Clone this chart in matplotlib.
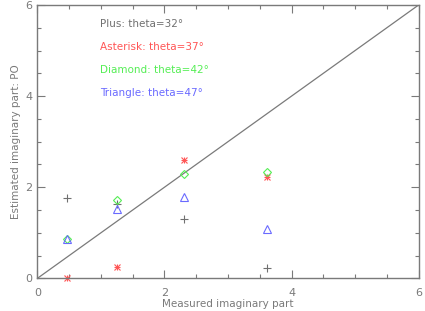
import matplotlib.pyplot as plt
from matplotlib.ticker import MultipleLocator

measured = [0.46, 1.245, 2.30, 3.61]
plus_vals = [1.76, 1.63, 1.30, 0.22]
asterisk_vals = [0.0, 0.25, 2.60, 2.23]
diamond_vals = [0.86, 1.71, 2.30, 2.34]
triangle_vals = [0.86, 1.52, 1.78, 1.08]
labels = ["Plus: theta=32°", "Asterisk: theta=37°",
          "Diamond: theta=42°", "Triangle: theta=47°"]

gray = "#7a7a7a"
colors = ["#707070", "#ff5555", "#55ee55", "#6a6aff"]

fig = plt.figure(figsize=(4.25, 3.11), dpi=100)
ax = fig.add_axes([0.088, 0.105, 0.897, 0.879])

ax.plot([0, 6], [0, 6], color=gray, lw=0.9)
ax.plot(measured, plus_vals, ls="none", marker="+", ms=6, mew=0.8,
        color=colors[0])
# IDL style asterisk: a plus and an x on top of each other
ax.plot(measured, asterisk_vals, ls="none", marker="x", ms=5, mew=0.8,
        color=colors[1], clip_on=False)
ax.plot(measured, asterisk_vals, ls="none", marker="+", ms=4, mew=0.8,
        color=colors[1], clip_on=False)
ax.plot(measured, diamond_vals, ls="none", marker="D", ms=4.5, mew=0.8,
        mfc="none", color=colors[2])
ax.plot(measured, triangle_vals, ls="none", marker="^", ms=5.5, mew=0.8,
        mfc="none", color=colors[3])

for i, (lab, c) in enumerate(zip(labels, colors)):
    ax.text(0.98, 5.59 - 0.51 * i, lab, color=c, fontsize=7.5, va="center")

ax.set_xlim(0, 6)
ax.set_ylim(0, 6)
ax.xaxis.set_major_locator(MultipleLocator(2))
ax.yaxis.set_major_locator(MultipleLocator(2))
ax.xaxis.set_minor_locator(MultipleLocator(0.5))
ax.yaxis.set_minor_locator(MultipleLocator(0.5))
ax.tick_params(which="both", direction="in", top=True, right=True,
               colors=gray, labelsize=8, width=0.8)
ax.tick_params(which="major", length=6)
ax.tick_params(which="minor", length=3)
ax.tick_params(axis="x", pad=7)
for s in ax.spines.values():
    s.set_color(gray)
    s.set_linewidth(1.0)
ax.set_xlabel("Measured imaginary part", color=gray, fontsize=7.5, labelpad=1)
ax.set_ylabel("Estimated imaginary part: PO", color=gray, fontsize=7.5,
              labelpad=3)

fig.savefig("out.png", dpi=100)
